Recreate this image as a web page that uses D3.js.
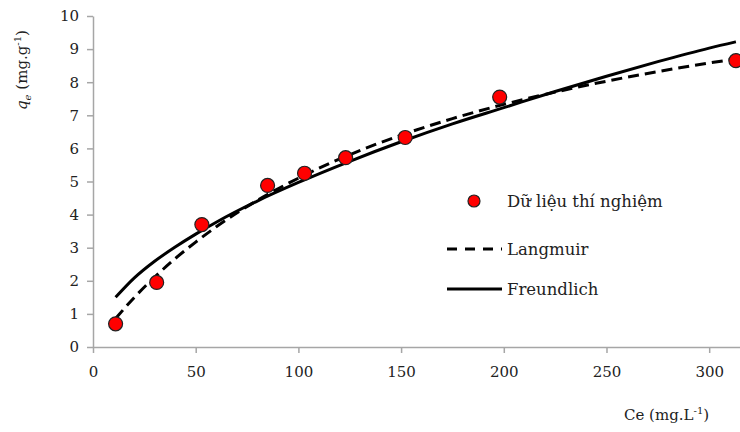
<!DOCTYPE html>
<html>
<head>
<meta charset="utf-8"/>
<title>Langmuir / Freundlich</title>
<script src="https://cdn.jsdelivr.net/npm/d3@7"></script>
<style>
  body, html {margin:0;padding:0;background:#fff;}
</style>
</head>
<body>
<svg id="chart" width="740" height="432"></svg>
<script>
// experimental points
var expCe = [11, 31, 53, 85, 103, 123, 152, 198, 313];
var expQe = [0.70, 1.95, 3.70, 4.88, 5.25, 5.72, 6.33, 7.55, 8.65];

// fitted curves
var fitCe = [11, 20, 30, 40, 50, 60, 80, 100, 125, 150, 175, 200, 225, 250, 275, 300, 313];
var langmuirQe = [0.86, 1.49, 2.11, 2.67, 3.17, 3.63, 4.43, 5.10, 5.81, 6.40, 6.90, 7.33, 7.70, 8.03, 8.32, 8.58, 8.70];
var freundlichQe = [1.50, 2.08, 2.59, 3.02, 3.41, 3.77, 4.41, 4.97, 5.61, 6.20, 6.74, 7.23, 7.72, 8.18, 8.62, 9.03, 9.22];

var xTicks = [0, 50, 100, 150, 200, 250, 300];
var yTicks = [0, 1, 2, 3, 4, 5, 6, 7, 8, 9, 10];
var legendLabels = ["Dữ liệu thí nghiệm", "Langmuir", "Freundlich"];

var font = "'DejaVu Serif', serif";
var svg = d3.select("#chart");
var x = d3.scaleLinear().domain([0, 315]).range([93, 740]);
var y = d3.scaleLinear().domain([0, 10]).range([347, 16]);

var axisColor = "#a6a6a6";

// axes
var gx = svg.append("g").attr("transform", "translate(0,347)")
  .call(d3.axisBottom(x).tickValues(xTicks).tickSize(6).tickPadding(13).tickSizeOuter(0));
var gy = svg.append("g").attr("transform", "translate(93,0)")
  .call(d3.axisLeft(y).tickValues(yTicks).tickSize(6).tickPadding(8).tickSizeOuter(0));
[gx, gy].forEach(function (g) {
  g.select(".domain").attr("stroke", axisColor).attr("stroke-width", 1.5);
  g.selectAll(".tick line").attr("stroke", axisColor).attr("stroke-width", 1.5);
  g.selectAll(".tick text").style("font-family", font).style("font-size", "15px").attr("fill", "#222");
});

// curves
var line = d3.line().curve(d3.curveMonotoneX);
var langPts = fitCe.map(function (c, i) { return [x(c), y(langmuirQe[i])]; });
var freuPts = fitCe.map(function (c, i) { return [x(c), y(freundlichQe[i])]; });

svg.append("path").attr("d", line(freuPts))
  .attr("fill", "none").attr("stroke", "#000").attr("stroke-width", 3);
svg.append("path").attr("d", line(langPts))
  .attr("fill", "none").attr("stroke", "#000").attr("stroke-width", 3)
  .attr("stroke-dasharray", "11,6");

// points
svg.selectAll("circle.exp").data(expCe).enter().append("circle")
  .attr("class", "exp")
  .attr("cx", function (d) { return x(d); })
  .attr("cy", function (d, i) { return y(expQe[i]); })
  .attr("r", 7)
  .attr("fill", "#ff0000").attr("stroke", "#222").attr("stroke-width", 1.2);

// legend
var lg = svg.append("g");
lg.append("circle").attr("cx", 474).attr("cy", 201).attr("r", 6)
  .attr("fill", "#ff0000").attr("stroke", "#222").attr("stroke-width", 1.2);
lg.append("line").attr("x1", 447).attr("x2", 502).attr("y1", 249).attr("y2", 249)
  .attr("stroke", "#000").attr("stroke-width", 3).attr("stroke-dasharray", "10,8");
lg.append("line").attr("x1", 447).attr("x2", 502).attr("y1", 289).attr("y2", 289)
  .attr("stroke", "#000").attr("stroke-width", 3);
lg.selectAll("text").data(legendLabels).enter().append("text")
  .attr("x", 507).attr("y", function (d, i) { return [201, 249, 289][i]; })
  .attr("dy", "0.35em")
  .style("font-family", font).style("font-size", "16.5px").attr("fill", "#222")
  .text(function (d) { return d; });

// axis titles
var xt = svg.append("text").attr("x", 624).attr("y", 420)
  .style("font-family", font).style("font-size", "15px").attr("fill", "#222");
xt.append("tspan").text("Ce (mg.L");
xt.append("tspan").attr("dy", -6).style("font-size", "10px").text("-1");
xt.append("tspan").attr("dy", 6).text(")");

var yt = svg.append("text").attr("transform", "translate(27,70) rotate(-90)")
  .attr("text-anchor", "middle")
  .style("font-family", font).style("font-size", "15px").attr("fill", "#222");
yt.append("tspan").attr("font-style", "italic").text("q");
yt.append("tspan").attr("font-style", "italic").style("font-size", "10px").attr("dy", 4).text("e");
yt.append("tspan").attr("dy", -4).text(" (mg.g");
yt.append("tspan").attr("dy", -6).style("font-size", "10px").text("-1");
yt.append("tspan").attr("dy", 6).text(")");
</script>
</body>
</html>
